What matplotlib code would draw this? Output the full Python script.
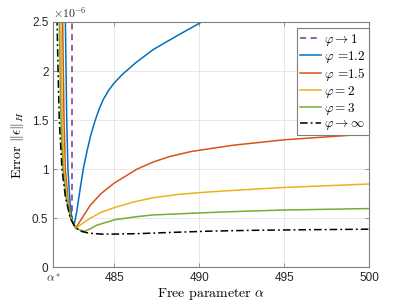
import numpy as np
import matplotlib
matplotlib.use('Agg')
import matplotlib.pyplot as plt

plt.rcParams['mathtext.fontset'] = 'cm'
plt.rcParams['font.family'] = ['Liberation Sans', 'DejaVu Sans']

# 数据 (误差单位: 1e-6)
alpha_star = 481.41

alpha_p1 = [482.49, 482.49]
err_p1 = [2.7, 0.44]

alpha_p12 = [482.10, 482.12, 482.20, 482.27, 482.40, 482.52, 482.63, 482.79, 482.98, 483.17, 483.40,
             483.62, 483.86, 484.1, 484.35, 484.65, 485.0, 485.5, 486.3, 487.3, 488.7, 490.04, 490.3]
err_p12 = [2.7, 2.5, 1.5, 1.0, 0.65, 0.48, 0.43, 0.57, 0.79, 1.0, 1.19,
           1.35, 1.49, 1.61, 1.71, 1.80, 1.88, 1.97, 2.09, 2.22, 2.36, 2.49, 2.52]

alpha_p15 = [481.94, 481.96, 482.04, 482.12, 482.28, 482.45, 482.72, 482.98, 483.57, 484.2, 485.0,
             486.32, 487.3, 488.27, 489.5, 490.63, 492.0, 495.0, 500.0]
err_p15 = [2.7, 2.5, 1.5, 1.0, 0.68, 0.5, 0.40, 0.47, 0.63, 0.75, 0.86,
           1.0, 1.075, 1.13, 1.18, 1.21, 1.245, 1.30, 1.36]

alpha_p2 = [481.84, 481.86, 481.94, 482.04, 482.22, 482.43, 482.73, 482.98, 483.57, 484.2, 485.0,
            486.2, 487.29, 488.8, 490.63, 492.5, 495.0, 500.0]
err_p2 = [2.7, 2.5, 1.5, 1.0, 0.70, 0.5, 0.40, 0.43, 0.50, 0.56, 0.61,
          0.67, 0.71, 0.745, 0.77, 0.79, 0.815, 0.85]

alpha_p3 = [481.74, 481.76, 481.86, 481.98, 482.17, 482.42, 482.75, 483.0, 483.27, 483.6, 483.96,
            485.0, 486.2, 487.29, 490.63, 492.5, 495.0, 500.0]
err_p3 = [2.7, 2.5, 1.5, 1.0, 0.71, 0.5, 0.40, 0.38, 0.37, 0.395, 0.43,
          0.485, 0.515, 0.535, 0.56, 0.572, 0.585, 0.60]

alpha_inf = [481.61, 481.63, 481.69, 481.76, 481.92, 482.12, 482.41, 482.70, 483.0, 483.5, 484.2,
             485.0, 486.5, 488.0, 490.6, 493.0, 496.0, 500.0]
err_inf = [2.7, 2.5, 2.0, 1.5, 1.0, 0.72, 0.5, 0.41, 0.37, 0.35, 0.34,
           0.34, 0.345, 0.355, 0.37, 0.378, 0.384, 0.39]

x_ticks = [alpha_star, 485, 490, 495, 500]
x_tick_labels = [r'$\alpha^*$', '485', '490', '495', '500']
y_ticks = [0, 0.5, 1, 1.5, 2, 2.5]
y_tick_labels = ['0', '0.5', '1', '1.5', '2', '2.5']

fig = plt.figure(figsize=(4.07, 3.05), dpi=100)
ax = fig.add_axes([0.131, 0.123, 0.776, 0.805])

lw = 1.1
ax.plot(alpha_p1, err_p1, '--', color='#7E2F8E', lw=lw, dashes=(4, 3), label=r'$\varphi \rightarrow 1$')
ax.plot(alpha_p12, err_p12, '-', color='#0072BD', lw=lw, label=r'$\varphi$ =1.2')
ax.plot(alpha_p15, err_p15, '-', color='#D95319', lw=lw, label=r'$\varphi$ =1.5')
ax.plot(alpha_p2, err_p2, '-', color='#EDB120', lw=lw, label=r'$\varphi = 2$')
ax.plot(alpha_p3, err_p3, '-', color='#77AC30', lw=lw, label=r'$\varphi = 3$')
ax.plot(alpha_inf, err_inf, '-.', color='black', lw=lw, dashes=(5, 2, 1.2, 2), label=r'$\varphi \rightarrow \infty$')

ax.set_xlim(alpha_star, 500)
ax.set_ylim(0, 2.5)
ax.set_xticks(x_ticks)
ax.set_xticklabels(x_tick_labels)
ax.set_yticks(y_ticks)
ax.set_yticklabels(y_tick_labels)
ax.tick_params(direction='in', length=3, width=0.6, colors='#7f7f7f', labelcolor='#262626',
               labelsize=8.5, top=True, right=True)
for s in ax.spines.values():
    s.set_color('#7f7f7f')
    s.set_linewidth(0.8)
ax.grid(True, color='#e3e3e3', linewidth=0.6)
ax.set_axisbelow(True)

ax.set_xlabel(r'Free parameter $\alpha$', fontfamily='cmr10', fontsize=10, labelpad=1)
ax.set_ylabel(r'Error $\|\epsilon\|_H$', fontfamily='cmr10', fontsize=10, labelpad=4)
ax.text(0.0, 1.005, r'$\times10^{-6}$', transform=ax.transAxes, fontsize=8.5,
        color='#262626', ha='left', va='bottom', fontfamily='Liberation Sans')

leg = ax.legend(loc='upper right', bbox_to_anchor=(1.0, 0.974), fancybox=False,
                prop={'family': 'cmr10', 'size': 9.5}, labelspacing=0.08,
                handlelength=1.6, handletextpad=0.25, borderpad=0.25, borderaxespad=0.0,
                framealpha=1)
leg.get_frame().set_edgecolor('#7f7f7f')
leg.get_frame().set_linewidth(0.8)

plt.savefig('out.png', dpi=100)
plt.close()
